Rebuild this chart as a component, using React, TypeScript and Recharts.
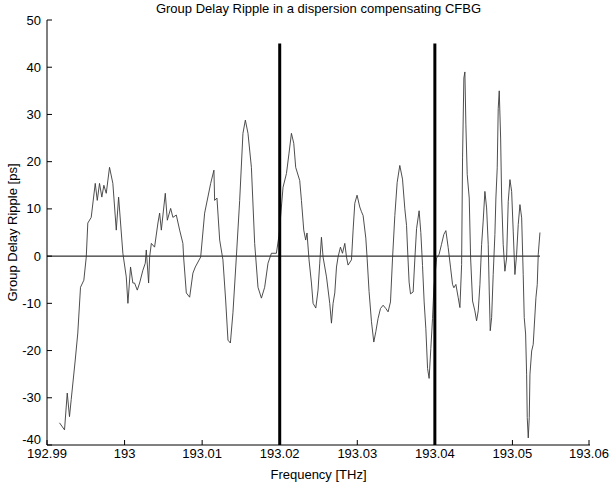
import React from 'react';
import {
  ComposedChart,
  Line,
  XAxis,
  YAxis,
  ReferenceLine,
} from 'recharts';

// frequency [THz] of each sample of the ripple trace
const freqs = [
  192.99161, 192.99226, 192.99261, 192.9929, 192.99312, 192.99364, 192.99397, 192.99432,
  192.99475, 192.99506, 192.99526, 192.9957, 192.99622, 192.99648, 192.99677, 192.99707,
  192.99733, 192.99764, 192.99806, 192.99849, 192.99893, 192.99923, 192.99978, 193.00022,
  193.00043, 193.00077, 193.00107, 193.00129, 193.00164, 193.00194, 193.00236, 193.00267,
  193.0028, 193.0031, 193.00323, 193.00345, 193.00387, 193.0043, 193.00452, 193.00474,
  193.00525, 193.00551, 193.00594, 193.00623, 193.00667, 193.0071, 193.00752, 193.00761,
  193.00796, 193.00839, 193.00881, 193.00912, 193.00981, 193.01032, 193.0111, 193.01152,
  193.01161, 193.01191, 193.01226, 193.01268, 193.01303, 193.01333, 193.01364, 193.01397,
  193.01441, 193.01484, 193.01526, 193.01557, 193.01591, 193.01635, 193.01677, 193.0172,
  193.01764, 193.01806, 193.01849, 193.01893, 193.01957, 193.01991, 193.02043, 193.02087,
  193.0212, 193.02151, 193.02181, 193.02206, 193.02258, 193.0228, 193.0231, 193.02335,
  193.02352, 193.02378, 193.02409, 193.0243, 193.02465, 193.02494, 193.02516, 193.02538,
  193.02559, 193.02603, 193.02645, 193.02667, 193.02688, 193.0271, 193.02732, 193.02752,
  193.02783, 193.02809, 193.02839, 193.02861, 193.02881, 193.02925, 193.02946, 193.02968,
  193.02997, 193.03032, 193.03054, 193.03075, 193.0311, 193.03127, 193.03152, 193.03183,
  193.03213, 193.03239, 193.03268, 193.03299, 193.03333, 193.03368, 193.03397, 193.03428,
  193.03454, 193.03484, 193.03514, 193.03548, 193.03583, 193.03613, 193.03635, 193.03648,
  193.03668, 193.03686, 193.0372, 193.03742, 193.03764, 193.03797, 193.03819, 193.03841,
  193.03862, 193.03884, 193.03906, 193.03926, 193.03948, 193.0397, 193.03987, 193.04022,
  193.04055, 193.04086, 193.04116, 193.04142, 193.04172, 193.04203, 193.04228, 193.04245,
  193.04271, 193.04301, 193.04323, 193.04345, 193.04357, 193.04374, 193.04387, 193.044,
  193.04417, 193.04443, 193.04461, 193.04486, 193.04516, 193.04538, 193.04559, 193.04581,
  193.04603, 193.04623, 193.04645, 193.04667, 193.04688, 193.04701, 193.04714, 193.04732,
  193.04752, 193.04774, 193.04787, 193.04804, 193.04817, 193.0483, 193.04848, 193.04861,
  193.04881, 193.04903, 193.04925, 193.04946, 193.04968, 193.0499, 193.0501, 193.05032,
  193.05054, 193.05075, 193.05097, 193.05119, 193.05139, 193.05152, 193.0517, 193.05183,
  193.05191, 193.05204, 193.05217, 193.05226, 193.05248, 193.05268, 193.05303, 193.0532,
  193.05333, 193.05355,
];

// group delay ripple [ps]
const ripple = [
  -35.3, -36.8, -29, -34, -30.4, -22, -16.3, -6.6,
  -5.1, -0.2, 7, 8.2, 15.4, 11.8, 15.4, 12.5,
  15, 13.3, 18.8, 15.4, 5.5, 12.5, 0.6, -4.4,
  -10, -2.3, -5.7, -5.7, -7.2, -5.7, -3, -1.5,
  1.3, -5.7, -0.2, 2.7, 1.9, 7, 9.1, 5.5,
  13.3, 7.6, 10.1, 8.2, 8.7, 5.5, 2.7, -0.2,
  -7.8, -8.7, -3.6, -2.3, -0.2, 9.1, 15.4, 18.2,
  11.8, 12.3, 3.4, -0.8, -9.3, -17.8, -18.4, -12,
  -0.2, 11.8, 26, 28.8, 26, 18.8, 2.7, -6.6,
  -8.9, -6.6, -1.5, 0.6, 0.6, 4.4, 14.6, 17.5,
  21.8, 26, 23.9, 18.8, 16, 11.8, 5.5, 3.4,
  4.9, -0.8, -5.7, -10, -11, -7.2, -1.5, 4,
  -0.2, -4.4, -10, -14.2, -10, -7.8, -2.3, -0.2,
  1.9, 0.6, 2.7, -0.2, -1.9, -0.8, 5.5, 11.2,
  12.9, 10.4, 9.4, 8.6, 3.8, -0.5, -7.5, -13.9,
  -18.2, -16, -13.2, -11.1, -10.4, -11.1, -11.8, -9.7,
  -0.6, 8.6, 15.6, 19.2, 16.3, 10, 6.5, 1.5,
  -5.5, -8, -7.6, -0.6, 5.8, 9.6, 5, -2,
  -9.7, -15.4, -23.8, -25.9, -19.6, -13.2, -6.9, -0.4,
  0.4, 2.5, 4.6, 5.4, 1.8, -2.5, -6, -6.7,
  -6, -8.8, -10.9, -1.8, 20.8, 37.7, 39, 27.8,
  17.3, 12.3, -0.4, -9.5, -11.6, -13.7, -11.6, -6,
  2.5, 7.4, 13.7, 10.2, 2.5, -7.4, -15.8, -13,
  -3.9, 4.6, 12.3, 18.7, 31.3, 35, 25, 12.3,
  2.5, -3.2, -0.4, 11.6, 16.2, 13.7, 5.3, -3.9,
  0.4, 6.7, 10.9, 8.1, -3.9, -13, -16.5, -25,
  -34.2, -38.5, -34.2, -25, -20.1, -18.7, -8.8, -6,
  0.4, 5,
];

// the two tall vertical jumps of the trace
const spikeAFreqs = [193.02, 193.02];
const spikeAValues = [45, -40];
const spikeBFreqs = [193.04, 193.04];
const spikeBValues = [45, -40];

const xTicks = [192.99, 193, 193.01, 193.02, 193.03, 193.04, 193.05, 193.06];
const yTicks = [-40, -30, -20, -10, 0, 10, 20, 30, 40, 50];

const data = freqs.map((f, i) => ({ f, v: ripple[i] }));
const spikeA = spikeAFreqs.map((f, i) => ({ f, v: spikeAValues[i] }));
const spikeB = spikeBFreqs.map((f, i) => ({ f, v: spikeBValues[i] }));

const FONT = '"Liberation Sans", Arial, sans-serif';

function fmtFreq(v: number) {
  return String(Number(v.toFixed(2)));
}

function XTick(props: any) {
  const { x, y, payload } = props;
  return (
    <g>
      <line x1={x} y1={y} x2={x} y2={y - 5} stroke="#000" strokeWidth={1} />
      <text x={x} y={y + 13} textAnchor="middle" fontSize={13} fontFamily={FONT} fill="#000">
        {fmtFreq(payload.value)}
      </text>
    </g>
  );
}

function YTick(props: any) {
  const { x, y, payload } = props;
  // the bottom label sits a little above the axis so it clears the x labels
  const lift = payload.value === -40 ? -6 : 0;
  return (
    <g>
      <line x1={x} y1={y} x2={x + 5} y2={y} stroke="#000" strokeWidth={1} />
      <text x={x - 6} y={y + lift} dy="0.35em" textAnchor="end" fontSize={13} fontFamily={FONT} fill="#000">
        {payload.value}
      </text>
    </g>
  );
}

export default function App() {
  return (
    <div style={{ position: 'absolute', left: 0, top: 0, width: 611, height: 488, background: '#fff' }}>
      <div
        style={{
          position: 'absolute',
          left: 47,
          width: 543,
          top: 1,
          textAlign: 'center',
          fontFamily: FONT,
          fontSize: 13,
          color: '#000',
        }}
      >
        Group Delay Ripple in a dispersion compensating CFBG
      </div>
      <ComposedChart
        width={611}
        height={488}
        margin={{ top: 20, right: 21, left: 0, bottom: 0 }}
      >
        <XAxis
          dataKey="f"
          type="number"
          domain={[192.99, 193.06]}
          ticks={xTicks}
          allowDataOverflow
          height={43}
          tickSize={0}
          tickMargin={0}
          tickLine={false}
          stroke="#000"
          tick={<XTick />}
          label={{
            value: 'Frequency [THz]',
            position: 'insideBottom',
            offset: 9,
            fontSize: 13,
            fontFamily: FONT,
            fill: '#000',
          }}
        />
        <YAxis
          dataKey="v"
          type="number"
          domain={[-40, 50]}
          ticks={yTicks}
          allowDataOverflow
          width={47}
          tickSize={0}
          tickMargin={0}
          tickLine={false}
          stroke="#000"
          tick={<YTick />}
          label={{
            value: 'Group Delay Ripple [ps]',
            angle: -90,
            position: 'insideLeft',
            offset: 12,
            fontSize: 13,
            fontFamily: FONT,
            fill: '#000',
            style: { textAnchor: 'middle' },
          }}
        />
        <ReferenceLine
          segment={[
            { x: 192.99, y: 0 },
            { x: 193.05355, y: 0 },
          ]}
          stroke="#000"
          strokeWidth={1}
        />
        <Line
          data={data}
          dataKey="v"
          type="linear"
          stroke="#3a3a3a"
          strokeWidth={0.9}
          dot={false}
          isAnimationActive={false}
        />
        <Line
          data={spikeA}
          dataKey="v"
          type="linear"
          stroke="#000"
          strokeWidth={3}
          dot={false}
          isAnimationActive={false}
        />
        <Line
          data={spikeB}
          dataKey="v"
          type="linear"
          stroke="#000"
          strokeWidth={3}
          dot={false}
          isAnimationActive={false}
        />
      </ComposedChart>
    </div>
  );
}
